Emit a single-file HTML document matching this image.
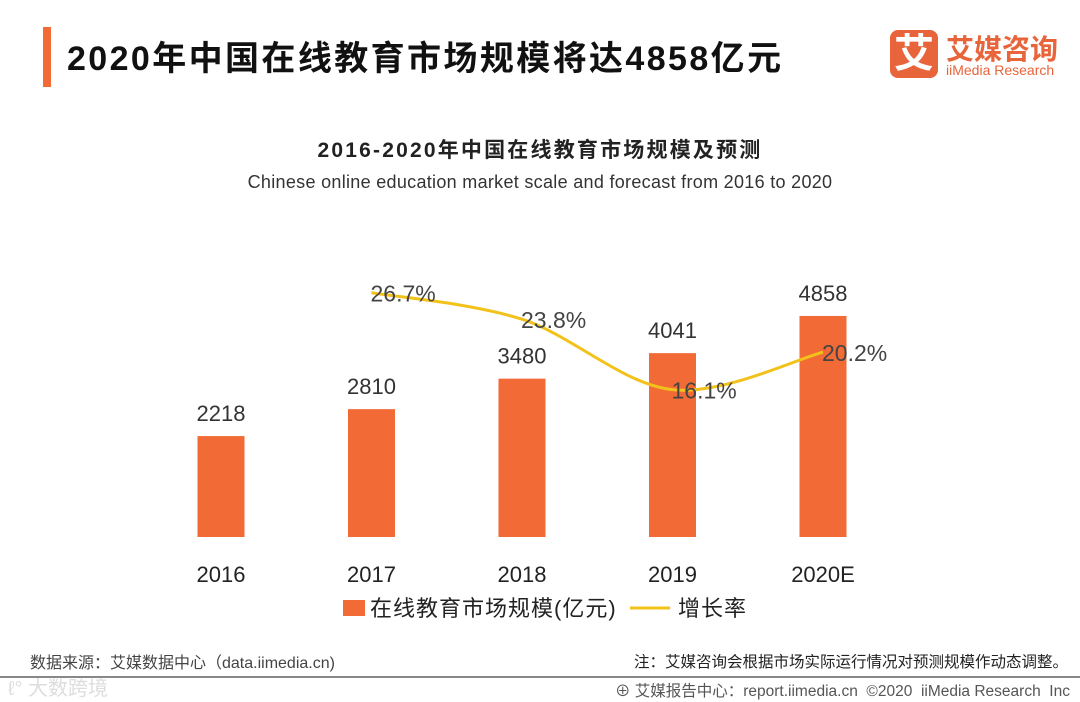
<!DOCTYPE html>
<html><head><meta charset="utf-8"><style>
body{margin:0;width:1080px;height:702px;background:#fff;overflow:hidden;font-family:"Liberation Sans","Noto Sans CJK SC",sans-serif;position:relative}
.abs{position:absolute;white-space:nowrap}
</style></head><body>
<div class="abs" style="left:43px;top:27px;width:8px;height:60px;background:#f26a35"></div>
<div class="abs" style="left:67px;top:31px;font-size:34px;font-weight:bold;color:#111;letter-spacing:2.4px">2020年中国在线教育市场规模将达4858亿元</div>
<div class="abs" style="left:890px;top:30px;width:48px;height:48px;background:#e8643a;border-radius:8px;color:#fff;font-size:40px;font-weight:bold;text-align:center;line-height:48px">艾</div>
<div class="abs" style="left:946px;top:28px;font-size:28px;font-weight:bold;color:#e8643a;letter-spacing:0px">艾媒咨询</div>
<div class="abs" style="left:946px;top:62px;font-size:14px;color:#e8643a">iiMedia Research</div>
<div class="abs" style="left:0;width:1080px;text-align:center;top:134px;font-size:21px;font-weight:bold;color:#222;letter-spacing:2.2px">2016-2020年中国在线教育市场规模及预测</div>
<div class="abs" style="left:0;width:1080px;text-align:center;top:172px;font-size:18px;color:#333;letter-spacing:0.3px">Chinese online education market scale and forecast from 2016 to 2020</div>
<svg class="abs" style="left:0;top:0" width="1080" height="702">
<g id="bars"></g><path id="line" fill="none" stroke="#f2c21b" stroke-width="3"/><g id="labels"></g>
<rect x="343" y="600" width="22" height="16" fill="#f26a35"/>
<text x="370" y="616" font-size="22" fill="#222" letter-spacing="1">在线教育市场规模(亿元)</text>
<line x1="630" y1="608" x2="670" y2="608" stroke="#f2c21b" stroke-width="3"/>
<text x="678" y="616" font-size="22" fill="#222" letter-spacing="1">增长率</text>
<line x1="0" y1="677" x2="1080" y2="677" stroke="#888" stroke-width="2"/>
</svg>
<div class="abs" style="left:30px;top:649px;font-size:16px;color:#444">数据来源：艾媒数据中心（data.iimedia.cn)</div>
<div class="abs" style="right:12px;top:650px;font-size:15.5px;color:#222">注：艾媒咨询会根据市场实际运行情况对预测规模作动态调整。</div>
<div class="abs" style="left:8px;top:672px;font-size:20px;color:#ddd">ℓ° 大数跨境</div>
<div class="abs" style="right:10px;top:679px;font-size:15.5px;color:#555">⊕ 艾媒报告中心：report.iimedia.cn &nbsp;©2020 &nbsp;iiMedia Research &nbsp;Inc</div>
<script>
const categories=["2016","2017","2018","2019","2020E"];
const marketValues=[2218,2810,3480,4041,4858];
const growthValues=[null,26.7,23.8,16.1,20.2];
const growthLabels=["","26.7%","23.8%","16.1%","20.2%"];
const NS="http://www.w3.org/2000/svg";
const base=537;
const xPos=i=>221+i*150.5;
const yBar=v=>base-v*0.0455;
const yRate=v=>base-v*9.15;
function mk(t,a,p){const e=document.createElementNS(NS,t);for(const k in a)e.setAttribute(k,a[k]);p.appendChild(e);return e;}
const bars=document.getElementById('bars'),labels=document.getElementById('labels');
categories.forEach((c,i)=>{
 const x=xPos(i),y=yBar(marketValues[i]);
 const r=mk('rect',{x:x-23.5,y:y,width:47,height:base-y,fill:'#f26a35'},bars);
 
 
 const t=mk('text',{x:x,y:y-15,'text-anchor':'middle','font-size':22,fill:'#333'},labels);t.textContent=marketValues[i];
 
 
 const a=mk('text',{x:x,y:582,'text-anchor':'middle','font-size':22,fill:'#222'},labels);a.textContent=c;
 
 
});
const pts=[];growthValues.forEach((v,i)=>{if(v!==null)pts.push([xPos(i),yRate(v),i]);});
let d='M'+pts[0][0]+','+pts[0][1];
for(let k=0;k<pts.length-1;k++){const p0=pts[Math.max(0,k-1)],p1=pts[k],p2=pts[k+1],p3=pts[Math.min(pts.length-1,k+2)];
 const c1x=p1[0]+(p2[0]-p0[0])/6,c1y=p1[1]+(p2[1]-p0[1])/6,c2x=p2[0]-(p3[0]-p1[0])/6,c2y=p2[1]-(p3[1]-p1[1])/6;
 d+=` C${c1x},${c1y} ${c2x},${c2y} ${p2[0]},${p2[1]}`;}
const ln=document.getElementById('line');ln.setAttribute('d',d);


pts.forEach(p=>{const t=mk('text',{x:p[0]-1,y:p[1]+9,'font-size':23,fill:'#444'},labels);t.textContent=growthLabels[p[2]];
 
 });
</script>
</body></html>
